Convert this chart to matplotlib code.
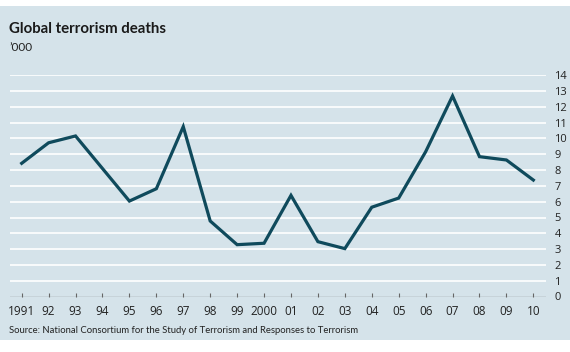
import matplotlib
matplotlib.use("Agg")
import matplotlib.pyplot as plt
from matplotlib.patches import Rectangle

# Global terrorism deaths, thousands
years = list(range(1991, 2011))
deaths = [8.43, 9.73, 10.16, 8.1, 6.04, 6.82, 10.75, 4.78, 3.28, 3.37,
          6.4, 3.47, 3.03, 5.65, 6.23, 9.16, 12.69, 8.85, 8.64, 7.37]
year_labels = ["1991", "92", "93", "94", "95", "96", "97", "98", "99", "2000",
               "01", "02", "03", "04", "05", "06", "07", "08", "09", "10"]
y_ticks = list(range(0, 15))

bg = "#d5e3ea"
line_col = "#0f4a5c"
plt.rcParams["font.family"] = ["Lato", "DejaVu Sans"]
tick_font = ["Open Sans", "DejaVu Sans"]

fig = plt.figure(figsize=(5.7, 3.52), dpi=100)
fig.patch.set_facecolor("white")
fig.patches.append(Rectangle((0, 12 / 352), 1, 334 / 352, transform=fig.transFigure,
                             facecolor=bg, edgecolor="none", zorder=-10))

ax = fig.add_axes([10 / 570, 55.5 / 352, 536 / 570, 221.2 / 352])
ax.set_facecolor("none")
ax.set_xlim(1990.566, 2010.47)
ax.set_ylim(0, 14)

for v in y_ticks[1:]:
    ax.axhline(v, color="white", lw=1.2, zorder=1)
ax.axhline(0, color="#666666", lw=0.9, zorder=2)

ax.plot(years, deaths, color=line_col, lw=2.3, solid_joinstyle="miter", zorder=3, clip_on=False)

for s in ax.spines.values():
    s.set_visible(False)

ax.set_xticks(years)
ax.set_xticklabels(year_labels, fontsize=8.5, color="#222222", family=tick_font)
ax.tick_params(axis="x", direction="in", length=3, width=0.8, color="#666666", pad=6)

ax.yaxis.tick_right()
ax.set_yticks(y_ticks)
ax.set_yticklabels([str(v) for v in y_ticks], fontsize=8, color="#222222", family=tick_font)
ax.tick_params(axis="y", length=0, pad=6)

fig.text(9 / 570, 1 - 32.7 / 352, "Global terrorism deaths", fontsize=10.8,
         fontweight="bold", color="#1a1a1a", va="baseline")
fig.text(9 / 570, 1 - 51 / 352, "\u2019000", fontsize=8.5, color="#222222", va="baseline")
fig.text(9 / 570, 1 - 333 / 352,
         "Source: National Consortium for the Study of Terrorism and Responses to Terrorism",
         fontsize=6.85, color="#222222", va="baseline")

fig.savefig("out.png", dpi=100, facecolor="white")
